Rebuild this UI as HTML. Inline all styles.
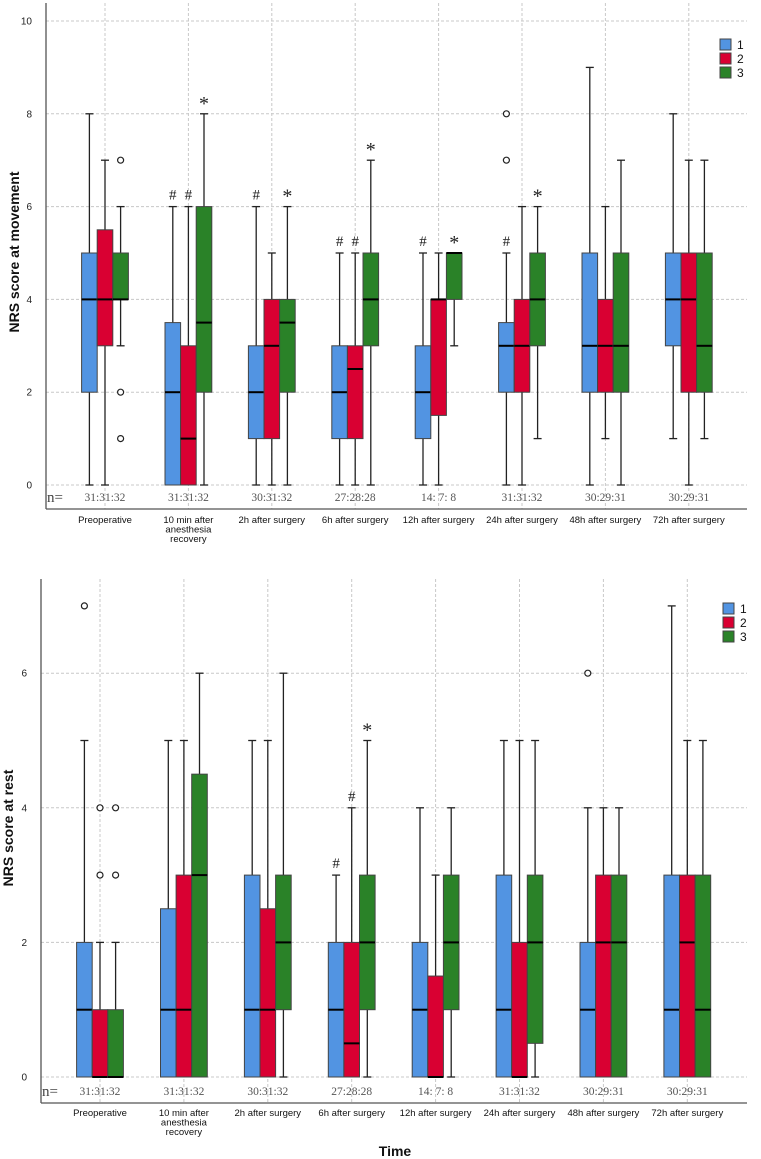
<!DOCTYPE html>
<html><head><meta charset="utf-8">
<style>
html,body{margin:0;padding:0;background:#fff;}
svg{display:block;font-family:"Liberation Sans",sans-serif;}
</style></head>
<body>
<svg id="chart" width="761" height="1159" viewBox="0 0 761 1159" xmlns="http://www.w3.org/2000/svg"></svg>
<script>
// ---- data ----
const categories = ["Preoperative","10 min after|anesthesia|recovery","2h after surgery","6h after surgery","12h after surgery","24h after surgery","48h after surgery","72h after surgery"];
const nLabels = ["31:31:32","31:31:32","30:31:32","27:28:28","14:  7:  8","31:31:32","30:29:31","30:29:31"];
const seriesNames = ["1","2","3"];
// movement: [q1, median, q3, whiskerLow, whiskerHigh]
const movGroup1 = [[2,4,5,0,8],[0,2,3.5,0,6],[1,2,3,0,6],[1,2,3,0,5],[1,2,3,0,5],[2,3,3.5,0,5],[2,3,5,0,9],[3,4,5,1,8]];
const movGroup2 = [[3,4,5.5,0,7],[0,1,3,0,6],[1,3,4,0,5],[1,2.5,3,0,5],[1.5,4,4,0,5],[2,3,4,0,6],[2,3,4,1,6],[2,4,5,0,7]];
const movGroup3 = [[4,4,5,3,6],[2,3.5,6,0,8],[2,3.5,4,0,6],[3,4,5,0,7],[4,5,5,3,5],[3,4,5,1,6],[2,3,5,0,7],[2,3,5,1,7]];
const movOutliers = [[0,2,7],[0,2,2],[0,2,1],[5,0,8],[5,0,7]]; // [category, series, value]
const movMarks = [[1,0,"#"],[1,1,"#"],[1,2,"*"],[2,0,"#"],[2,2,"*"],[3,0,"#"],[3,1,"#"],[3,2,"*"],[4,0,"#"],[4,2,"*"],[5,0,"#"],[5,2,"*"]];
const movTicks = [0,2,4,6,8,10];
// rest
const restGroup1 = [[0,1,2,0,5],[0,1,2.5,0,5],[0,1,3,0,5],[0,1,2,0,3],[0,1,2,0,4],[0,1,3,0,5],[0,1,2,0,4],[0,1,3,0,7]];
const restGroup2 = [[0,0,1,0,2],[0,1,3,0,5],[0,1,2.5,0,5],[0,0.5,2,0,4],[0,0,1.5,0,3],[0,0,2,0,5],[0,2,3,0,4],[0,2,3,0,5]];
const restGroup3 = [[0,0,1,0,2],[0,3,4.5,0,6],[1,2,3,0,6],[1,2,3,0,5],[1,2,3,0,4],[0.5,2,3,0,5],[0,2,3,0,4],[0,1,3,0,5]];
const restOutliers = [[0,0,7],[0,1,4],[0,1,3],[0,2,4],[0,2,3],[6,0,6]];
const restMarks = [[3,0,"#"],[3,1,"#"],[3,2,"*"]];
const restTicks = [0,2,4,6];

const colors = ["#5294e2","#d90032","#2a8228"];
const NS = "http://www.w3.org/2000/svg";
const svg = document.getElementById("chart");
function mk(tag, attrs, parent, text){
  const e = document.createElementNS(NS, tag);
  for (const k in attrs) e.setAttribute(k, attrs[k]);
  if (text !== undefined) e.textContent = text;
  (parent||svg).appendChild(e);
  return e;
}

function drawPanel(cfg){
  const g = mk("g", {});
  
  
  const y = v => cfg.y0 - (v - 0) * cfg.unit;
  const x = i => cfg.x0 + i * cfg.step;
  const bw = 15.6;
  // grid
  cfg.ticks.forEach(t => {
    const l = mk("line",{x1:cfg.axisX,x2:cfg.right,y1:y(t),y2:y(t),stroke:"#c8c8c8","stroke-dasharray":"3,2","stroke-width":1},g);
    
    
    const tl = mk("text",{x:cfg.axisX-14,y:y(t)+3.5,"font-size":10,"text-anchor":"end",fill:"#222"},g,String(t));
    
    
  });
  categories.forEach((c,i) => {
    const l = mk("line",{x1:x(i),x2:x(i),y1:cfg.top,y2:cfg.axisY,stroke:"#c8c8c8","stroke-dasharray":"3,2","stroke-width":1},g);
    
    
  });
  // axes
  const ya = mk("line",{x1:cfg.axisX,x2:cfg.axisX,y1:cfg.top,y2:cfg.axisY,stroke:"#555","stroke-width":1.3},g);
  
  
  const xa = mk("line",{x1:cfg.axisX,x2:cfg.right,y1:cfg.axisY,y2:cfg.axisY,stroke:"#555","stroke-width":1.3},g);
  
  
  // boxes
  cfg.groups.forEach((ser, s) => {
    ser.forEach((d, i) => {
      const [q1,med,q3,lo,hi] = d;
      const cx = x(i) + (s-1)*bw;
      const bx = cx - bw/2;
      const wg = mk("g",{},g);
      
      
      if (hi > q3){ mk("line",{x1:cx,x2:cx,y1:y(hi),y2:y(q3),stroke:"#222","stroke-width":1.3},wg);
        mk("line",{x1:cx-4,x2:cx+4,y1:y(hi),y2:y(hi),stroke:"#222","stroke-width":1.3},wg); }
      if (lo < q1){ mk("line",{x1:cx,x2:cx,y1:y(q1),y2:y(lo),stroke:"#222","stroke-width":1.3},wg);
        mk("line",{x1:cx-4,x2:cx+4,y1:y(lo),y2:y(lo),stroke:"#222","stroke-width":1.3},wg); }
      mk("rect",{x:bx,y:y(q3),width:bw,height:Math.max(y(q1)-y(q3),0.5),fill:colors[s],stroke:"#444","stroke-width":1},wg);
      mk("line",{x1:bx,x2:bx+bw,y1:y(med),y2:y(med),stroke:"#000","stroke-width":2},wg);
    });
  });
  cfg.outliers.forEach(o => {
    const cx = x(o[0]) + (o[1]-1)*bw;
    const c = mk("circle",{cx:cx,cy:y(o[2]),r:3,fill:"#fff",stroke:"#222","stroke-width":1.2},g);
    
    
  });
  cfg.marks.forEach(m => {
    const cx = x(m[0]) + (m[1]-1)*bw;
    const hi = cfg.groups[m[1]][m[0]][4];
    const t = mk("text",{x:cx,y:y(hi)-(m[2]==="*"?4:7),"font-size":m[2]==="*"?20:15,"text-anchor":"middle","font-family":"Liberation Serif, serif",fill:"#222"},g,m[2]);
    
    
  });
  // n row
  const nl = mk("text",{x:cfg.axisX+1,y:cfg.nY+5,"font-size":15,"font-family":"Liberation Serif, serif",fill:"#444"},g,"n=");
  
  
  nLabels.forEach((n,i) => {
    const t = mk("text",{x:x(i),y:cfg.nY+4,"font-size":11.5,"text-anchor":"middle","font-family":"Liberation Serif, serif",fill:"#555","xml:space":"preserve"},g,n);
    
    
  });
  categories.forEach((c,i) => {
    const lines = c.split("|");
    lines.forEach((ln,k) => {
      const t = mk("text",{x:x(i),y:cfg.labY+3+k*9.5,"font-size":9.5,"text-anchor":"middle",fill:"#111"},g,ln);
      
      
    });
  });
  // y title
  const yt = mk("text",{x:0,y:0,"font-size":14,"font-weight":"bold","text-anchor":"middle",fill:"#111",transform:`translate(${cfg.titleX},${cfg.titleY}) rotate(-90)`},g,cfg.title);
  
  
  // legend
  const lg = mk("g",{},g);
  
  
  seriesNames.forEach((n,s) => {
    const r = mk("rect",{x:cfg.legX,y:cfg.legY+s*14,width:11,height:11,fill:colors[s],stroke:"#444","stroke-width":1},lg);
    
    
    const t = mk("text",{x:cfg.legX+17,y:cfg.legY+s*14+10,"font-size":12,fill:"#111"},lg,n);
    
    
  });
}

drawPanel({name:"movement-chart",x0:105,step:83.4,y0:485,unit:46.4,top:3,axisX:46,axisY:509,right:747,nY:497,labY:520,
  ticks:movTicks,groups:[movGroup1,movGroup2,movGroup3],outliers:movOutliers,marks:movMarks,
  title:"NRS score at movement",titleX:19,titleY:252,legX:720,legY:39});
drawPanel({name:"rest-chart",x0:100,step:83.9,y0:1077,unit:67.3,top:579,axisX:41,axisY:1103,right:747,nY:1091,labY:1113,
  ticks:restTicks,groups:[restGroup1,restGroup2,restGroup3],outliers:restOutliers,marks:restMarks,
  title:"NRS score at rest",titleX:13,titleY:828,legX:723,legY:603});
const tt = mk("text",{x:395,y:1156,"font-size":14,"font-weight":"bold","text-anchor":"middle",fill:"#111"},svg,"Time");


</script>
</body></html>
